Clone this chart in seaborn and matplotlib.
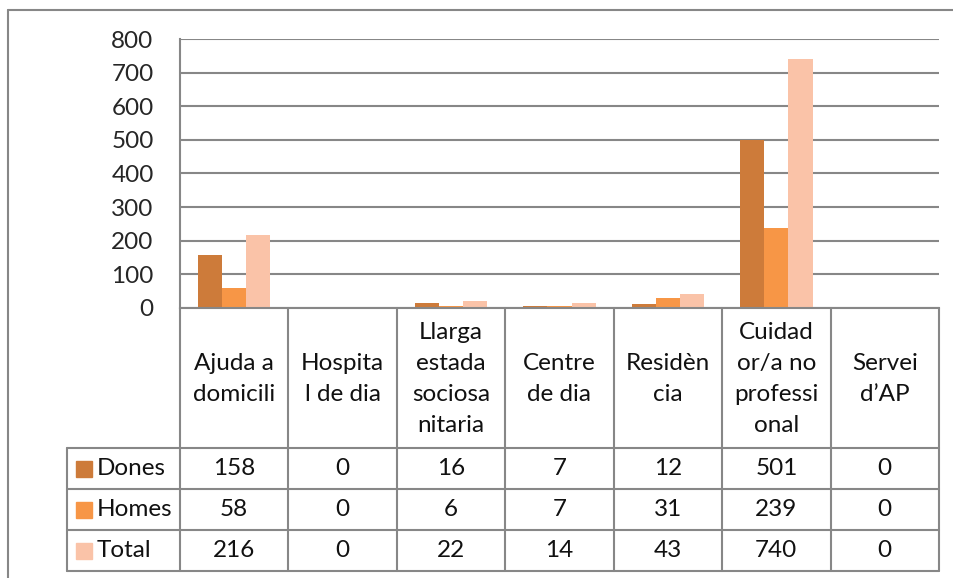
import numpy as np
import pandas as pd
import seaborn as sns
import matplotlib.pyplot as plt
from matplotlib.lines import Line2D

# data
categories = ["Ajuda a\ndomicili", "Hospita\nl de dia", "Llarga\nestada\nsociosa\nnitaria",
              "Centre\nde dia", "Residèn\ncia", "Cuidad\nor/a no\nprofessi\nonal", "Servei\nd’AP"]
series = ["Dones", "Homes", "Total"]
dones = [158, 0, 16, 7, 12, 501, 0]
homes = [58, 0, 6, 7, 31, 239, 0]
total = [216, 0, 22, 14, 43, 740, 0]
yticks = [0, 100, 200, 300, 400, 500, 600, 700, 800]
colors = ["#CD7B3A", "#F79646", "#FAC3A8"]

df = pd.DataFrame({
    "cat": categories * 3,
    "serie": [s for s in series for _ in categories],
    "value": dones + homes + total,
})

sns.set_style("white")
plt.rcParams["font.family"] = ["Lato", "DejaVu Sans"]
FS = 17.5
GRAY = "#878787"
LW = 1.5

W, H = 954, 578
fig = plt.figure(figsize=(W / 100, H / 100), dpi=100)

# plot area
x0, x1, ytop, ybot = 180, 939, 39, 308
ax = fig.add_axes([x0 / W, 1 - ybot / H, (x1 - x0) / W, (ybot - ytop) / H])
sns.barplot(data=df, x="cat", y="value", hue="serie", order=categories, hue_order=series,
            palette=colors, width=0.667, gap=0, linewidth=0, saturation=1,
            legend=False, ax=ax)
ax.set_xlim(-0.5, len(categories) - 0.5)
ax.set_ylim(0, 800)
ax.set_yticks(yticks)
ax.set_yticklabels([str(v) for v in yticks], fontsize=FS)
ax.tick_params(axis="y", length=0, pad=19)
ax.set_xticks([])
ax.set_xlabel("")
ax.set_ylabel("")
ax.yaxis.grid(True, color=GRAY, lw=LW)
ax.set_axisbelow(True)
for s in ["top", "right"]:
    ax.spines[s].set_visible(False)
for s in ["left", "bottom"]:
    ax.spines[s].set_color(GRAY)
    ax.spines[s].set_linewidth(LW)

# data table below the axis
colw = (x1 - x0) / len(categories)
tl, tb = 67, 572
tax = fig.add_axes([tl / W, 1 - tb / H, (x1 - tl) / W, (tb - ybot) / H])
xleft = -0.5 - (x0 - tl) / colw
tax.set_xlim(xleft, len(categories) - 0.5)
tax.set_ylim(tb, ybot)
tax.axis("off")

rows = [448, 489, 530, 571]
for k in range(len(categories) + 1):
    tax.plot([k - 0.5, k - 0.5], [ybot, rows[-1]], color=GRAY, lw=LW, clip_on=False)
tax.plot([xleft, xleft], [rows[0], rows[-1]], color=GRAY, lw=LW, clip_on=False)
for r in rows:
    tax.plot([xleft, len(categories) - 0.5], [r, r], color=GRAY, lw=LW, clip_on=False)

for i, c in enumerate(categories):
    tax.text(i, (ybot + rows[0]) / 2 + 1, c, ha="center", va="center", fontsize=FS,
             linespacing=1.6, color="#111111")

values = [dones, homes, total]
for j, (name, vals, col) in enumerate(zip(series, values, colors)):
    yc = (rows[j] + rows[j + 1]) / 2
    tax.plot([xleft + 0.155], [yc], marker="s", ms=11, color=col, mec=col,
             clip_on=False)
    tax.text(xleft + 0.275, yc, name, ha="left", va="center", fontsize=FS, color="#111111")
    for i, v in enumerate(vals):
        tax.text(i, yc, str(v), ha="center", va="center", fontsize=FS, color="#111111")

# outer chart frame
fig.add_artist(Line2D([8 / W, 8 / W], [1 - 10 / H, 0], color=GRAY, lw=LW))
fig.add_artist(Line2D([8 / W, 1], [1 - 10 / H, 1 - 10 / H], color=GRAY, lw=LW))

fig.savefig("out.png", dpi=100)
